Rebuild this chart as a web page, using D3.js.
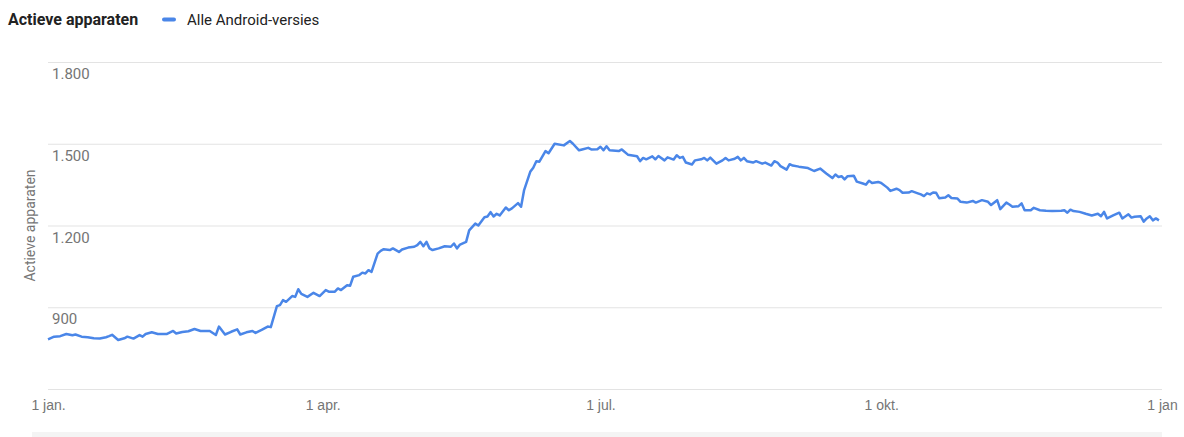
<!DOCTYPE html>
<html lang="nl">

<head>
    <meta charset="utf-8">
    <style type="text/css">
        body {
            margin: 0;
            background-color: #fff;
        }

        svg {
            display: block;
            font-family: Roboto, "Noto Sans", Arial, sans-serif;
        }

        .grid line {
            stroke: #e3e3e3;
        }

        .tick text {
            fill: #757575;
            font-size: 14px;
        }
    </style>
    <script src="https://d3js.org/d3.v7.min.js"></script>
    <title>Actieve apparaten</title>
</head>

<body>
    <div id="chart"></div>
    <script type="text/JavaScript">

        //Day of the year (0 = 1 jan.) and active devices on that day
        var days = [0, 2, 4, 6, 8, 9, 11, 13, 15, 17, 19, 20, 21, 23, 25, 26, 28, 30, 31, 32,
            34, 36, 39, 41, 42, 44, 46, 48, 50, 53, 55, 56, 58, 60, 62, 63, 65, 67, 68, 70,
            72, 73, 75, 76, 77, 78, 80, 81, 82, 83, 85, 87, 89, 91, 92, 94, 95, 96, 98, 99,
            100, 102, 103, 104, 105, 106, 108, 109, 110, 112, 113, 115, 116, 118, 120, 121, 122, 123, 124, 125,
            126, 128, 130, 132, 133, 134, 135, 137, 138, 140, 141, 143, 144, 145, 146, 147, 148, 150, 151, 152,
            154, 155, 156, 158, 159, 160, 161, 163, 164, 166, 169, 171, 172, 174, 175, 177, 178, 180, 181, 182,
            183, 184, 187, 188, 190, 193, 194, 195, 196, 198, 199, 200, 202, 203, 205, 206, 207, 208, 209, 211,
            212, 214, 215, 216, 217, 219, 221, 222, 223, 225, 226, 227, 228, 229, 231, 232, 234, 235, 237, 238,
            239, 240, 242, 243, 244, 246, 249, 251, 253, 255, 257, 258, 259, 260, 261, 262, 264, 265, 267, 268,
            269, 270, 272, 273, 275, 276, 278, 279, 280, 282, 283, 285, 286, 287, 288, 289, 290, 291, 292, 294,
            295, 296, 298, 299, 301, 303, 304, 306, 308, 309, 311, 312, 314, 315, 316, 318, 319, 320, 322, 323,
            325, 327, 329, 332, 333, 334, 335, 336, 338, 340, 342, 344, 345, 346, 347, 349, 351, 352, 354, 355,
            356, 358, 359, 360, 361, 362, 363, 364];

        var devices = [782, 792, 794, 802, 797, 800, 792, 790, 786, 785, 790, 794, 799, 780, 786, 792, 785, 798, 792, 802,
            808, 802, 802, 813, 804, 809, 812, 820, 813, 813, 798, 829, 800, 810, 819, 800, 808, 813, 806, 817,
            829, 827, 904, 908, 926, 920, 941, 938, 966, 949, 938, 953, 941, 963, 957, 957, 969, 963, 981, 979,
            1012, 1018, 1027, 1024, 1036, 1030, 1097, 1107, 1113, 1110, 1116, 1103, 1112, 1119, 1122, 1128, 1140, 1124, 1140, 1116,
            1110, 1116, 1124, 1122, 1134, 1116, 1130, 1140, 1182, 1207, 1200, 1230, 1233, 1249, 1233, 1243, 1237, 1266, 1256, 1263,
            1282, 1269, 1330, 1397, 1412, 1436, 1434, 1473, 1465, 1500, 1494, 1510, 1500, 1476, 1479, 1485, 1479, 1480, 1489, 1476,
            1491, 1476, 1473, 1479, 1460, 1454, 1436, 1448, 1443, 1454, 1443, 1455, 1439, 1450, 1442, 1458, 1448, 1452, 1431, 1424,
            1439, 1443, 1448, 1439, 1449, 1427, 1439, 1448, 1439, 1445, 1452, 1439, 1448, 1436, 1431, 1436, 1427, 1431, 1420, 1436,
            1431, 1418, 1405, 1425, 1420, 1416, 1411, 1400, 1409, 1391, 1374, 1387, 1378, 1381, 1369, 1381, 1383, 1361, 1354, 1350,
            1364, 1356, 1360, 1356, 1339, 1327, 1335, 1330, 1320, 1321, 1326, 1318, 1314, 1308, 1318, 1314, 1321, 1320, 1300, 1303,
            1311, 1301, 1299, 1287, 1284, 1290, 1284, 1293, 1287, 1275, 1293, 1260, 1284, 1277, 1269, 1271, 1281, 1256, 1256, 1265,
            1256, 1254, 1253, 1254, 1256, 1247, 1258, 1253, 1250, 1243, 1237, 1243, 1234, 1250, 1226, 1237, 1247, 1226, 1241, 1229,
            1232, 1234, 1214, 1226, 1234, 1219, 1226, 1219];

        var yTicks = [600, 900, 1200, 1500, 1800];
        var xTicks = ["2019-01-01", "2019-04-01", "2019-07-01", "2019-10-01", "2020-01-01"];

        var seriesName = "Alle Android-versies";
        var legendTitle = "Actieve apparaten";
        var axisTitle = "Actieve apparaten";

        //Dutch number and date formats
        var nl = d3.formatLocale({ decimal: ",", thousands: ".", grouping: [3], currency: ["€", ""] });
        var nlTime = d3.timeFormatLocale({
            dateTime: "%a %e %B %Y %X", date: "%d-%m-%Y", time: "%H:%M:%S", periods: ["AM", "PM"],
            days: ["zondag", "maandag", "dinsdag", "woensdag", "donderdag", "vrijdag", "zaterdag"],
            shortDays: ["zo", "ma", "di", "wo", "do", "vr", "za"],
            months: ["januari", "februari", "maart", "april", "mei", "juni", "juli", "augustus", "september", "oktober", "november", "december"],
            shortMonths: ["jan.", "feb.", "mrt.", "apr.", "mei", "jun.", "jul.", "aug.", "sep.", "okt.", "nov.", "dec."]
        });

        var width = 1184, height = 437;
        //plot area (named so they don't clash with window.top etc.)
        var plotLeft = 48, plotRight = 1162, plotTop = 62, plotBottom = 389;

        var parse = d3.timeParse("%Y-%m-%d");
        var start = parse(xTicks[0]);
        var data = days.map(function(d, i) {
            return { date: d3.timeDay.offset(start, d), value: devices[i] };
        });

        var svg = d3.select("#chart")
            .append("svg")
            .attr("width", width)
            .attr("height", height);

        var x = d3.scaleTime()
            .domain([start, parse(xTicks[xTicks.length - 1])])
            .range([plotLeft, plotRight]);

        var y = d3.scaleLinear()
            .domain([600, 1800])
            .range([plotBottom, plotTop]);

        //Gridlines
        svg.append("g")
            .attr("class", "grid")
            .attr("transform", "translate(" + plotRight + ",0)")
            .call(d3.axisLeft(y).tickValues(yTicks).tickSize(plotRight - plotLeft).tickFormat(""))
            .call(function(g) { g.select(".domain").remove(); });

        //Y labels sit inside the plot, under each gridline
        svg.append("g")
            .attr("class", "y-labels")
            .selectAll("text")
            .data(yTicks.slice(1))
            .enter().append("text")
            .attr("x", plotLeft + 4)
            .attr("y", function(d) { return y(d) + 17; })
            .attr("fill", "#757575")
            .style("font-size", "15px")
            .text(function(d) { return nl.format(",")(d); });

        //X axis
        var fmt = nlTime.format("%-d %b");
        svg.append("g")
            .attr("transform", "translate(0," + plotBottom + ")")
            .call(d3.axisBottom(x)
                .tickValues(xTicks.map(parse))
                .tickSize(0)
                .tickPadding(11)
                .tickFormat(function(d, i) {
                    return i === xTicks.length - 1 ? fmt(d).replace(".", "") : fmt(d);
                }))
            .call(function(g) { g.select(".domain").remove(); });

        //Line
        var line = d3.line()
            .x(function(d) { return x(d.date); })
            .y(function(d) { return y(d.value); });

        svg.append("path")
            .datum(data)
            .attr("fill", "none")
            .attr("stroke", "#4a86e8")
            .attr("stroke-width", 2.5)
            .attr("stroke-linejoin", "round")
            .attr("d", line);

        //Axis title
        svg.append("text")
            .attr("transform", "translate(35," + ((plotTop + plotBottom) / 2) + ") rotate(-90)")
            .attr("text-anchor", "middle")
            .attr("fill", "#757575")
            .style("font-size", "14px")
            .text(axisTitle);

        //Legend
        svg.append("text")
            .attr("x", 8)
            .attr("y", 25)
            .attr("fill", "#222")
            .style("font-size", "16px")
            .style("font-weight", "bold")
            .text(legendTitle);

        svg.append("line")
            .attr("x1", 164).attr("x2", 174)
            .attr("y1", 19.5).attr("y2", 19.5)
            .attr("stroke", "#4a86e8")
            .attr("stroke-width", 4)
            .attr("stroke-linecap", "round");

        svg.append("text")
            .attr("x", 187)
            .attr("y", 25)
            .attr("fill", "#222")
            .style("font-size", "15px")
            .text(seriesName);

        //Edge of the next panel below the chart
        svg.append("rect")
            .attr("x", 32).attr("y", 432)
            .attr("width", plotRight - 32).attr("height", 5)
            .attr("fill", "#f4f4f4");

    </script>
</body>

</html>
